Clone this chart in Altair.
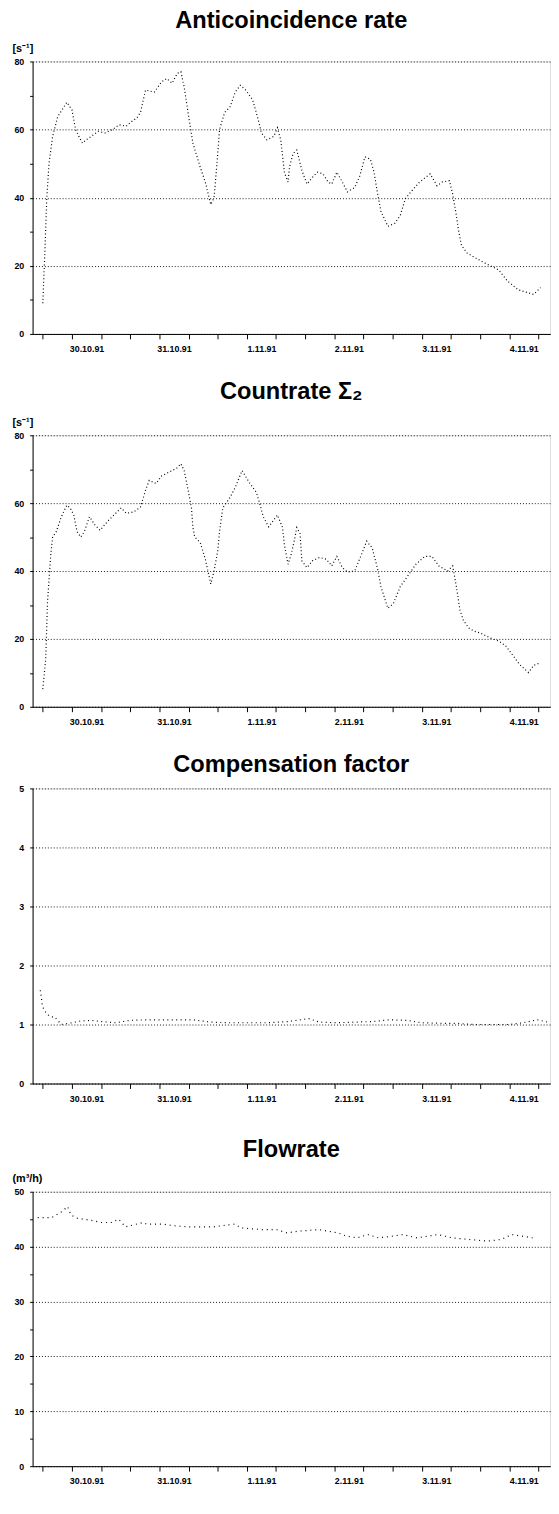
import json
import altair as alt
import pandas as pd

# ---------------- data ----------------
DAY_LABELS = ["30.10.91", "31.10.91", "1.11.91", "2.11.91", "3.11.91", "4.11.91"]
X_DOMAIN = [-2.8, 139.2]          # hours after 30.10.91 00:00

anti_hours = [0.0, 0.6, 1.1, 1.7, 2.7, 4.1, 6.6, 8.0, 9.0, 9.9, 10.9, 11.9, 13.3, 15.2,
              17.1, 19.1, 21.0, 22.9, 24.4, 25.8, 26.8, 28.2, 30.6, 32.6, 34.0, 35.5,
              36.9, 37.9, 38.8, 40.3, 41.2, 43.2, 44.6, 46.1, 47.0, 47.8, 48.5, 49.9,
              51.4, 52.8, 54.2, 55.7, 57.6, 59.1, 60.0, 61.5, 63.4, 64.4, 65.3, 66.3,
              67.3, 67.7, 68.7, 69.7, 71.1, 72.5, 74.0, 75.4, 76.9, 78.3, 79.3, 80.7,
              82.2, 83.6, 85.6, 87.0, 88.4, 89.9, 90.9, 91.8, 92.8, 94.7, 96.6, 98.1,
              99.5, 101.0, 103.4, 106.3, 108.2, 109.6, 111.6, 112.5, 113.5, 114.0, 114.9,
              116.4, 118.8, 121.2, 125.1, 127.5, 130.4, 134.7, 136.6]
anti_rate = [9, 25, 40, 50, 58, 63.8, 68, 65.8, 60, 58, 56, 57, 58, 59.5,
             59, 60, 61.4, 61, 62.4, 63.4, 65, 71.6, 71, 74, 75, 73.6,
             76.5, 77, 72.5, 62, 56, 49, 44.6, 38, 40, 50, 60, 65,
             66.7, 71, 73, 71.6, 68.7, 63, 59, 57, 58, 60.5, 57, 47.5,
             44.6, 49, 53, 54, 48, 44, 46, 47.5, 47, 44.6, 44, 47.5,
             44.6, 41.7, 43, 46.4, 52, 51.3, 47.5, 41.7, 36, 31.6, 32.5, 34.8,
             39.7, 41.7, 44.6, 47, 43.5, 44.6, 45, 41, 34.8, 31, 26,
             23.8, 22.3, 20.9, 18.8, 15.6, 13, 11.6, 13.6]

count_hours = [0.0, 0.8, 1.3, 2.2, 2.7, 3.7, 5.1, 6.6, 7.5, 8.5, 9.4, 10.4, 11.4, 12.8,
               14.3, 15.7, 18.1, 20.0, 21.5, 22.9, 24.9, 26.8, 28.2, 29.2, 31.1, 32.6,
               36.9, 37.9, 38.8, 39.8, 40.8, 41.2, 41.7, 43.2, 44.6, 46.1, 47.0, 48.0,
               48.5, 49.4, 51.4, 52.8, 54.7, 56.7, 58.6, 59.5, 60.5, 62.0, 64.4, 65.8,
               66.3, 67.3, 68.2, 69.2, 69.7, 70.6, 71.1, 72.5, 74.0, 75.9, 77.8, 79.3,
               80.7, 82.2, 83.6, 85.6, 87.5, 88.9, 90.4, 91.8, 92.8, 94.7, 96.2, 98.1,
               100.0, 102.4, 104.8, 106.8, 108.7, 111.1, 112.5, 113.5, 114.5, 115.4,
               116.9, 118.3, 120.2, 122.7, 125.1, 127.0, 128.4, 130.8, 133.3, 134.7, 136.6]
count_rate = [5.2, 14, 31, 45, 50, 51.6, 56, 59.4, 58.6, 56.5, 51.6, 50, 51.6, 56,
              53.6, 52, 55, 57, 58.6, 57, 57.4, 58.8, 63.8, 66.7, 65.8, 68,
              70.4, 71.6, 69.6, 64.3, 58.6, 52.8, 50, 48.4, 43.5, 36.2, 40, 45.8,
              51.6, 58.6, 61.7, 64.6, 69.6, 66, 63.2, 60, 56, 53, 56.5, 52.8,
              47.8, 42, 45, 49.9, 52.8, 51, 43, 41, 43, 44, 43.5, 41.5,
              44.3, 41, 39.7, 40, 45, 48.8, 46.8, 41, 35.4, 29, 30.4, 35.4,
              38.3, 42, 44.3, 44.3, 41.5, 40, 41.5, 35.4, 28.4, 25.5,
              23.2, 22.3, 21.7, 20.3, 19.4, 18, 16, 12.5, 10.1, 12.2, 13]

comp_hours = [-0.7, -0.4, -0.2, 0.3, 1.3, 2.2, 3.2, 5.1, 8.0, 10.4, 13.3, 16.2, 20.0,
              23.9, 28.7, 34.5, 41.2, 46.1, 50.9, 55.7, 61.5, 67.3, 73.0, 75.9, 80.7,
              85.6, 90.4, 95.2, 100.0, 103.9, 109.6, 113.5, 118.3, 123.1, 128.0, 131.8,
              135.7, 138.6]
comp_factor = [1.58, 1.47, 1.35, 1.25, 1.17, 1.13, 1.13, 1.0, 1.03, 1.06, 1.07, 1.05, 1.03,
               1.07, 1.08, 1.08, 1.08, 1.04, 1.03, 1.03, 1.03, 1.05, 1.1, 1.04, 1.03,
               1.04, 1.05, 1.08, 1.07, 1.03, 1.02, 1.02, 1.0, 1.0, 1.0, 1.03,
               1.08, 1.04]

flow_hours = [-1.4, 2.5, 5.3, 6.8, 7.7, 9.2, 11.1, 14.0, 15.9, 18.8, 20.8, 22.7, 27.5,
              28.5, 32.8, 36.2, 40.0, 46.8, 52.6, 54.5, 60.3, 64.1, 67.0, 69.9, 75.7,
              81.0, 83.4, 86.3, 89.2, 92.1, 95.9, 98.8, 102.7, 108.4, 112.3, 117.1,
              121.9, 125.8, 128.7, 131.6, 134.4]
flow_rate = [45.3, 45.3, 46.4, 47.3, 45.8, 45.2, 45.0, 44.7, 44.4, 44.4, 45.0, 43.6, 44.4,
             44.1, 44.1, 43.8, 43.6, 43.6, 44.1, 43.4, 43.1, 43.1, 42.5, 42.8, 43.1,
             42.5, 41.9, 41.6, 42.2, 41.6, 41.9, 42.2, 41.6, 42.2, 41.6, 41.3,
             41.0, 41.3, 42.2, 41.9, 41.6]

# ---------------- styling ----------------
FONT = "Liberation Sans"
PLOT_W = 526

x_values = list(range(0, 140, 4))
x_label_expr = ("datum.value % 24 === 12 ? " + json.dumps(DAY_LABELS)
                + "[floor(datum.value / 24)] : ''")


def x_axis(extra_bottom):
    kw = dict(
        values=x_values, labelExpr=x_label_expr, grid=False,
        tickOpacity={"condition": {"test": "datum.value % 8 === 0", "value": 1}, "value": 0},
        tickSize=5, tickColor="black", domainColor="black",
        labelFont=FONT, labelFontSize=9, labelFontWeight="bold", labelColor="black",
        labelPadding=6, labelOverlap=False, labelFlush=False,
    )
    if extra_bottom:
        kw.update(title="\u00a0", titleFontSize=extra_bottom, titlePadding=0)
    else:
        kw.update(title=None)
    return alt.Axis(**kw)


def y_axis(values, major, unit):
    test = f"abs(datum.value / {major} - round(datum.value / {major})) < 1e-6"
    kw = dict(
        values=values, format="d",
        labelExpr=f"{test} ? datum.label : ''",
        grid=True, gridColor="black", gridDash=[1, 2], gridWidth=1,
        gridOpacity={"condition": {"test": test, "value": 0.9}, "value": 0},
        tickSize=3, tickColor="black", domainColor="black",
        labelFont=FONT, labelFontSize=9, labelFontWeight="bold", labelColor="black",
        labelPadding=6, labelOverlap=False,
    )
    if unit:
        kw.update(title=unit, titleAngle=0, titleAlign="left", titleBaseline="alphabetic",
                  titleX=-21, titleY=-10, titleFont=FONT, titleFontSize=11,
                  titleFontWeight="bold", titleColor="black")
    else:
        kw.update(title=None)
    return alt.Axis(**kw)


def panel(hours, vals, ymax, ystep, major, unit, title, height, offset, dash, extra_bottom=0):
    df = pd.DataFrame({"h": hours, "v": vals})
    yvals = [round(i * ystep, 3) for i in range(int(round(ymax / ystep)) + 1)]
    line = alt.Chart(df).mark_line(
        color="black", strokeWidth=1.2, strokeDash=dash, clip=True
    ).encode(
        x=alt.X("h:Q", scale=alt.Scale(domain=X_DOMAIN, nice=False, zero=False),
                axis=x_axis(extra_bottom)),
        y=alt.Y("v:Q", scale=alt.Scale(domain=[0, ymax], nice=False),
                axis=y_axis(yvals, major, unit)),
    )
    return line.properties(
        width=PLOT_W, height=height,
        title=alt.TitleParams(title, font=FONT, fontSize=24, fontWeight="bold",
                              color="black", anchor="middle", offset=offset),
    )


p1 = panel(anti_hours, anti_rate, 80, 10, 20, "[s⁻¹]", "Anticoincidence rate", 277, 10, [1, 2.5])
p2 = panel(count_hours, count_rate, 80, 10, 20, "[s⁻¹]", "Countrate Σ₂", 276, 13, [1, 2.5])
p3 = panel(comp_hours, comp_factor, 5, 0.5, 1, None, "Compensation factor", 300, 8, [1, 3.5],
           extra_bottom=9)
p4 = panel(flow_hours, flow_rate, 50, 5, 10, "(m³/h)", "Flowrate", 279, 11, [1, 4])

chart = alt.vconcat(p1, p2, p3, p4, spacing=25).properties(
    padding={"left": 3, "top": -12, "right": 0, "bottom": 0}
).configure_view(stroke="black", strokeWidth=1).configure(font=FONT, background="white")

chart.save("out.html", embed_options={"renderer": "svg", "actions": False})
